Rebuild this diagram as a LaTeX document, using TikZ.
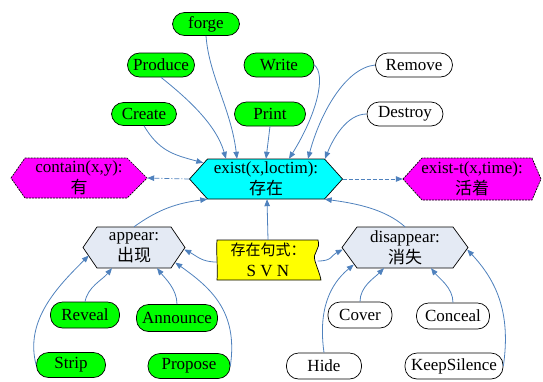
\documentclass[tikz,border=0pt]{standalone}
\usepackage{fontspec}
\setmainfont{Liberation Serif}
\newfontfamily\cjk{Noto Sans CJK SC}
\usetikzlibrary{arrows.meta,calc}
\definecolor{linkblue}{RGB}{79,129,189}
\definecolor{hexcyan}{RGB}{0,255,255}
\definecolor{hexmag}{RGB}{255,0,255}
\definecolor{hexlight}{RGB}{228,234,244}
\definecolor{pillgreen}{RGB}{0,255,0}
\definecolor{flagyellow}{RGB}{255,255,0}
\newcommand{\hexbg}[7]{%
  \path[#1] (#2-#4,#3) -- (#2-#4+#6,#3-#5) -- (#2+#4-#7,#3-#5) -- (#2+#4,#3)
    -- (#2+#4-#7,#3+#5) -- (#2-#4+#6,#3+#5) -- cycle;}
\tikzset{
  pill/.style={draw=black, line width=0.7pt, rounded corners=12pt, minimum height=24pt,
    inner sep=0pt, font=\fontsize{17}{20}\selectfont},
  gpill/.style={pill, fill=pillgreen},
  wpill/.style={pill, fill=white},
  hexlabel/.style={inner sep=0pt, align=center, font=\fontsize{17}{21}\selectfont},
  hexline/.style={draw=black, line width=0.7pt},
  conn/.style={draw=linkblue, line width=0.8pt, -{Triangle[length=7pt,width=5.5pt]}},
}
\begin{document}
\begin{tikzpicture}[x=1pt,y=-1pt]
\useasboundingbox (0,0) rectangle (543,381);
% top pills
\node[gpill, minimum width=67pt, minimum height=23pt] (forge) at (206,24) {forge};
\node[gpill, minimum width=67pt] (Produce) at (161,65) {Produce};
\node[gpill, minimum width=65pt, minimum height=23pt] (Create) at (144,114) {Create};
\node[gpill, minimum width=70pt] (Write) at (279,65) {Write};
\node[gpill, minimum width=71pt] (Print) at (270,114) {Print};
\node[wpill, minimum width=77pt] (Remove) at (414,65) {Remove};
\node[wpill, minimum width=76pt] (Destroy) at (405,114) {Destroy};
% hexagons
\hexbg{hexline, fill=hexcyan}{266}{179}{76.5}{20}{18}{18}
\node[hexlabel, minimum width=153pt, minimum height=40pt] (exist) at (266,179) {exist(x,loctim):\\{\cjk 存在}};
\hexbg{hexline, dashed, dash pattern=on 2pt off 1pt, fill=hexmag}{79}{178}{68}{20}{14}{20}
\node[hexlabel, minimum width=136pt, minimum height=40pt] (contain) at (79,178) {contain(x,y):\\{\cjk 有}};
\hexbg{hexline, dashed, dash pattern=on 2pt off 1pt, fill=hexmag}{472}{179}{69}{21}{19}{9}
\node[hexlabel, minimum width=138pt, minimum height=42pt] (existt) at (472,179) {exist-t(x,time):\\{\cjk 活着}};
\hexbg{hexline, fill=hexlight}{134}{247.5}{51}{20.5}{14}{14}
\node[hexlabel, minimum width=102pt, minimum height=41pt] (appear) at (134,247.5) {appear:\\{\cjk 出现}};
\hexbg{hexline, fill=hexlight}{405}{247.5}{63}{20.5}{15}{15}
\node[hexlabel, minimum width=126pt, minimum height=41pt] (disappear) at (405,247.5) {disappear:\\{\cjk 消失}};
% yellow flag
\path[hexline, fill=flagyellow] (217,240) -- (318,240)
  .. controls (321,250) and (312,252) .. (315,261)
  .. controls (317,268) and (320,274) .. (321,280) -- (217,280)
  .. controls (218,270) and (216,250) .. (217,240) -- cycle;
\node[hexlabel, minimum width=103pt, minimum height=40pt] (yellow) at (268,260)
  {{\fontsize{15}{15}\selectfont\cjk 存在句式：}\\S V N};
% bottom pills
\node[gpill, minimum width=69pt, minimum height=26pt] (Reveal) at (85,315) {Reveal};
\node[gpill, minimum width=81pt, minimum height=27pt] (Announce) at (177,318) {Announce};
\node[gpill, minimum width=69pt, minimum height=25pt] (Strip) at (71,365) {Strip};
\node[gpill, minimum width=82pt, minimum height=25pt] (Propose) at (189,366) {Propose};
\node[wpill, minimum width=64pt, minimum height=26pt] (Cover) at (360,315) {Cover};
\node[wpill, minimum width=73pt, minimum height=26pt] (Conceal) at (453,316) {Conceal};
\node[wpill, minimum width=75pt, minimum height=26pt] (Hide) at (324,366) {Hide};
\node[wpill, minimum width=98pt, minimum height=26pt] (KeepSilence) at (454,366) {KeepSilence};
% connectors to exist (top)
\draw[conn] (forge.south) .. controls +(3,40) and +(-6,-50) .. ([xshift=-29pt]exist.north);
\draw[conn] (Produce.south) .. controls +(25,20) and +(-10,-35) .. ([xshift=-40pt]exist.north);
\draw[conn] (Create.south) .. controls +(15,25) and +(-30,-8) .. ($(exist.north west)+(14,4)$);
\draw[conn] (Print.south) -- (exist.north);
\draw[conn] (Write.east) .. controls +(12,10) and +(28,-45) .. ([xshift=23pt]exist.north);
\draw[conn] (Remove.west) .. controls +(-30,3) and +(12,-45) .. ([xshift=42pt]exist.north);
\draw[conn] (Destroy.west) .. controls +(-20,0) and +(8,-20) .. ([xshift=59pt]exist.north);
% side links
\draw[conn, dash pattern=on 5pt off 2pt on 1pt off 2pt] (exist.west) -- (contain.east);
\draw[conn, dash pattern=on 4pt off 2pt] (exist.east) -- (existt.west);
% lower links to exist
\draw[conn] (appear.north) .. controls +(25,-18) and +(-30,4) .. ($(exist.south west)+(18,0)$);
\draw[conn] (disappear.north) .. controls +(-20,-18) and +(30,4) .. ($(exist.south east)+(-18,0)$);
\draw[conn] (yellow.north) -- ([xshift=1pt]exist.south);
\draw[conn] ($(yellow.west)+(0,2)$) .. controls +(-15,0) and +(12,6) .. ($(appear.east)+(-1,2)$);
\draw[conn] ($(yellow.east)+(-2,1)$) .. controls +(15,0) and +(-12,6) .. ($(disappear.west)+(1,2)$);
% appear children
\draw[conn] (Reveal.north) .. controls +(3,-15) and +(-10,12) .. ($(appear.south)+(-22,0)$);
\draw[conn] (Announce.north) .. controls +(0,-15) and +(8,10) .. ($(appear.south)+(23,0)$);
\draw[conn] (Strip.west) .. controls +(-12,-45) and +(-30,30) .. ($(appear.west)+(6,8)$);
\draw[conn] (Propose.east) .. controls +(8,-55) and +(35,25) .. ($(appear.east)+(-10,15)$);
% disappear children
\draw[conn] (Cover.north) .. controls +(0,-15) and +(-10,10) .. ($(disappear.south)+(-21,0)$);
\draw[conn] (Conceal.north) .. controls +(0,-15) and +(8,10) .. ($(disappear.south)+(26,0)$);
\draw[conn] (Hide.north) .. controls +(-6,-43) and +(-24,20) .. ($(disappear.west)+(12,17)$);
\draw[conn] (KeepSilence.east) .. controls +(8,-55) and +(28,30) .. ($(disappear.east)+(-1,2)$);
\end{tikzpicture}
\end{document}
